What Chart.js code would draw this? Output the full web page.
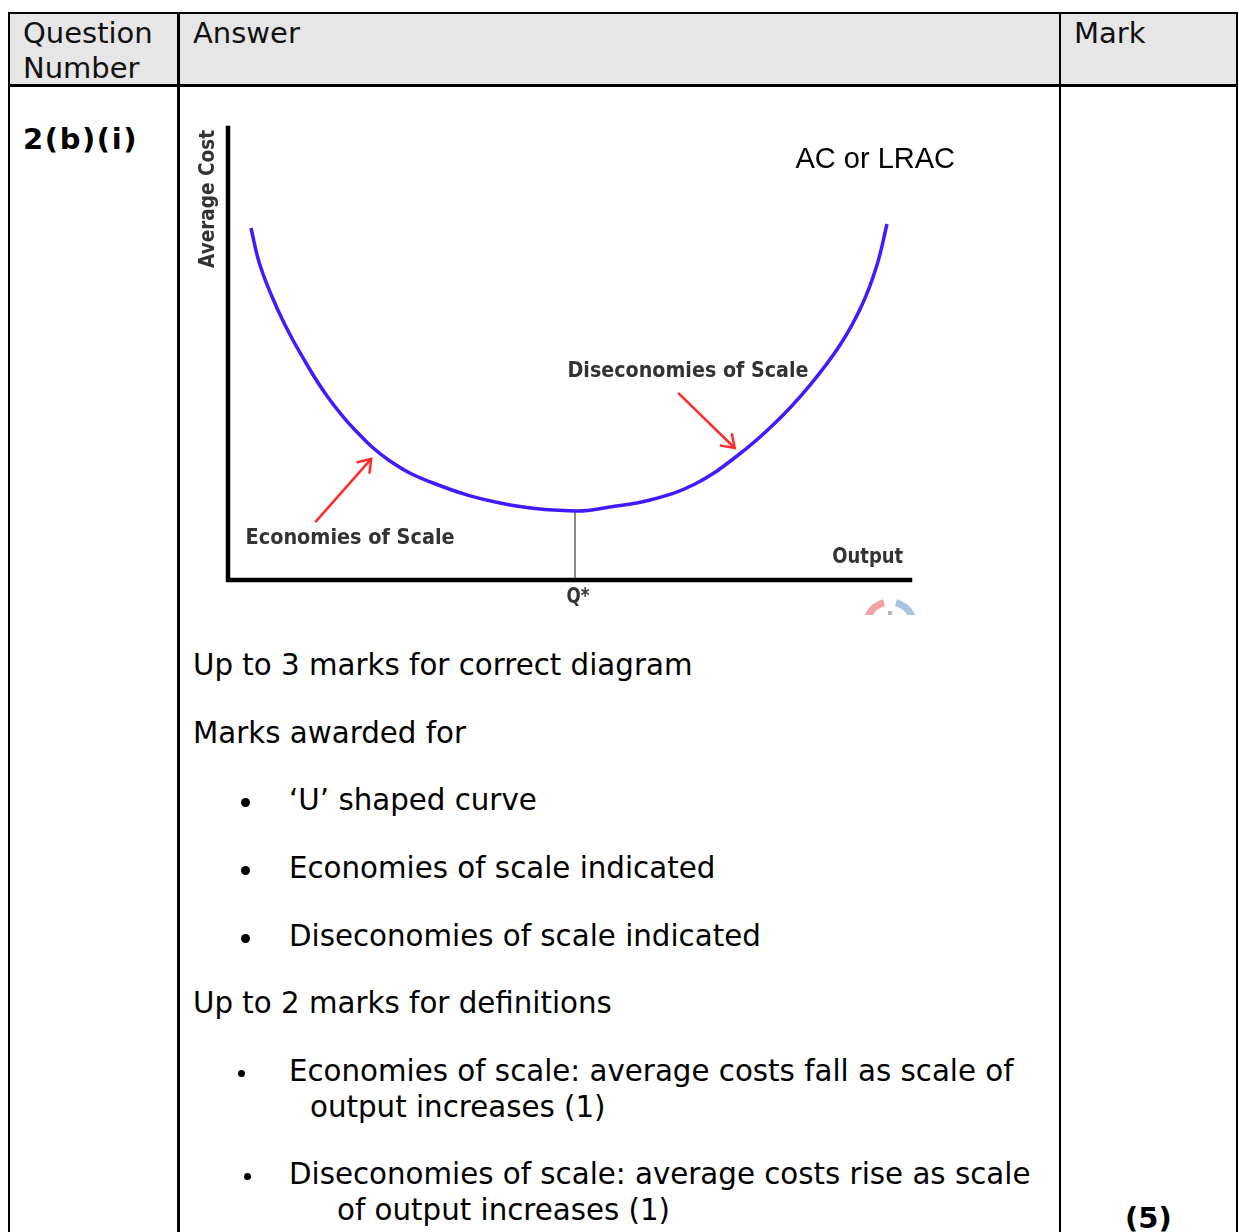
<!DOCTYPE html>
<html>
<head>
<meta charset="utf-8">
<script src="https://cdn.jsdelivr.net/npm/chart.js@4.4.1/dist/chart.umd.min.js"></script>
<style>
  body { margin: 0; width: 1239px; height: 1232px; overflow: hidden; background: #fff; position: relative; }
  .ln { position: absolute; background: #000; }
  .hdr { position: absolute; left: 9px; top: 13px; width: 1227px; height: 72px; background: #e6e6e6; }
  .t { position: absolute; white-space: nowrap; font-family: "DejaVu Sans", Verdana, sans-serif; font-size: 29.3px; line-height: 36px; color: #000; }
  .h { font-size: 29px; color: #111; }
  .b { font-weight: bold; }
  .dot { position: absolute; background: #000; border-radius: 50%; }
  #wrap { position: absolute; left: 190px; top: 120px; width: 790px; height: 495px; }
</style>
</head>
<body>
<div class="hdr"></div>
<div class="ln" style="left:7.5px;top:11.5px;width:2.5px;height:1300px"></div>
<div class="ln" style="left:177px;top:11.5px;width:2.5px;height:1300px"></div>
<div class="ln" style="left:1058.5px;top:11.5px;width:2.5px;height:1300px"></div>
<div class="ln" style="left:1235.5px;top:11.5px;width:2.5px;height:1300px"></div>
<div class="ln" style="left:7.5px;top:11.5px;width:1230.5px;height:2.5px"></div>
<div class="ln" style="left:7.5px;top:84px;width:1230.5px;height:2.5px"></div>

<div class="t h" style="left:23px;top:15px">Question</div>
<div class="t h" style="left:23px;top:50px">Number</div>
<div class="t h" style="left:193px;top:15px">Answer</div>
<div class="t h" style="left:1074px;top:15px">Mark</div>

<div class="t b" style="left:23px;top:121px;font-size:29px;letter-spacing:1.6px">2(b)(i)</div>

<div id="wrap"><canvas id="acChart"></canvas></div>

<div class="t" style="left:193px;top:647px">Up to 3 marks for correct diagram</div>
<div class="t" style="left:193px;top:715px">Marks awarded for</div>
<div class="dot" style="left:240.5px;top:798px;width:9px;height:9px"></div>
<div class="t" style="left:289px;top:782px">‘U’ shaped curve</div>
<div class="dot" style="left:240.5px;top:866px;width:9px;height:9px"></div>
<div class="t" style="left:289px;top:850px">Economies of scale indicated</div>
<div class="dot" style="left:240.5px;top:934px;width:9px;height:9px"></div>
<div class="t" style="left:289px;top:918px">Diseconomies of scale indicated</div>
<div class="t" style="left:193px;top:985px">Up to 2 marks for definitions</div>
<div class="dot" style="left:237.5px;top:1069.5px;width:7px;height:7px"></div>
<div class="t" style="left:289px;top:1053px">Economies of scale: average costs fall as scale of</div>
<div class="t" style="left:310px;top:1089px">output increases (1)</div>
<div class="dot" style="left:243.5px;top:1172.5px;width:7px;height:7px"></div>
<div class="t" style="left:289px;top:1156px">Diseconomies of scale: average costs rise as scale</div>
<div class="t" style="left:337px;top:1192px">of output increases (1)</div>
<div class="t b" style="left:1125px;top:1200px;font-size:29px">(5)</div>

<script>
// U-shaped long run average cost curve (output 0-100, cost 0-100)
const output = [3.37, 4.55, 6.16, 8.36, 11.0, 14.52, 18.62, 23.75, 30.06, 39.88, 50.88, 56.01, 61.88, 68.48, 74.63, 80.21, 85.34, 89.74, 92.96, 95.16, 96.63];
const avgCost = [77.88, 70.35, 63.72, 56.42, 49.12, 40.71, 33.19, 26.33, 21.46, 17.04, 15.27, 16.15, 17.7, 21.24, 27.43, 34.73, 43.14, 51.99, 60.84, 69.69, 78.76];

// optimum output Q* and minimum average cost
const qStar = 50.88;
const minCost = 15.27;

// red arrows: [tail, head]
const econArrowX = [12.8, 21.0];
const econArrowY = [12.8, 26.8];
const diseconArrowX = [66.0, 74.3];
const diseconArrowY = [41.4, 29.2];

function pts(xs, ys) {
    return xs.map((x, i) => ({ x: x, y: ys[i] }));
}

// label text and where it sits, in chart units
const labels = [
    { text: 'AC or LRAC', x: 94.9, y: 92.9, font: '29px "Liberation Sans", Arial, sans-serif', color: '#000' },
    { text: 'Diseconomies of Scale', x: 67.45, y: 46.2, font: 'bold 21px "DejaVu Sans", sans-serif', color: '#333', width: 241 },
    { text: 'Economies of Scale', x: 17.9, y: 9.07, font: 'bold 21px "DejaVu Sans", sans-serif', color: '#333', width: 209 },
    { text: 'Output', x: 93.8, y: 4.87, font: 'bold 21px "DejaVu Sans", sans-serif', color: '#333', width: 71 },
    { text: 'Q*', x: qStar + 0.45, y: -3.98, font: 'bold 21px "DejaVu Sans", sans-serif', color: '#333', width: 23 },
    { text: 'Average Cost', x: -2.8, y: 84.3, font: 'bold 21px "DejaVu Sans", sans-serif', color: '#333', width: 138, rotate: true }
];

function drawText(ctx, l, px, py) {
    ctx.save();
    ctx.font = l.font;
    ctx.fillStyle = l.color;
    ctx.textAlign = 'center';
    ctx.textBaseline = 'middle';
    ctx.translate(px, py);
    if (l.rotate) ctx.rotate(-Math.PI / 2);
    if (l.width) {
        const m = ctx.measureText(l.text).width;
        ctx.scale(l.width / m, 1);
    }
    ctx.fillText(l.text, 0, 0);
    ctx.restore();
}

function arrowHead(ctx, x0, y0, x1, y1) {
    const a = Math.atan2(y1 - y0, x1 - x0);
    const len = 14;
    ctx.beginPath();
    ctx.moveTo(x1 - len * Math.cos(a - 0.6), y1 - len * Math.sin(a - 0.6));
    ctx.lineTo(x1, y1);
    ctx.lineTo(x1 - len * Math.cos(a + 0.6), y1 - len * Math.sin(a + 0.6));
    ctx.stroke();
}

const diagramPlugin = {
    id: 'diagram',
    afterDatasetsDraw(chart) {
        const ctx = chart.ctx;
        const xs = chart.scales.x;
        const ys = chart.scales.y;
        const area = chart.chartArea;

        // axes
        ctx.save();
        ctx.strokeStyle = '#000';
        ctx.lineWidth = 4.5;
        ctx.lineCap = 'square';
        ctx.beginPath();
        ctx.moveTo(area.left, area.top);
        ctx.lineTo(area.left, area.bottom);
        ctx.lineTo(area.right, area.bottom);
        ctx.stroke();

        // arrow heads
        ctx.strokeStyle = '#ff2b2b';
        ctx.lineWidth = 2.5;
        ctx.lineCap = 'round';
        [[econArrowX, econArrowY], [diseconArrowX, diseconArrowY]].forEach(([ax, ay]) => {
            arrowHead(ctx, xs.getPixelForValue(ax[0]), ys.getPixelForValue(ay[0]),
                xs.getPixelForValue(ax[1]), ys.getPixelForValue(ay[1]));
        });

        // faint logo remnant in the corner
        const cx = area.right - 20, cy = area.bottom + 46;
        ctx.lineWidth = 7;
        ctx.lineCap = 'butt';
        ctx.strokeStyle = '#f2a3a3';
        ctx.beginPath();
        ctx.arc(cx, cy, 24, Math.PI * 1.12, Math.PI * 1.42);
        ctx.stroke();
        ctx.strokeStyle = '#a9c3df';
        ctx.beginPath();
        ctx.arc(cx, cy, 24, Math.PI * 1.58, Math.PI * 1.88);
        ctx.stroke();
        ctx.fillStyle = '#b5b5b5';
        ctx.fillRect(cx - 2, cy - 15, 4, 6);
        ctx.restore();

        labels.forEach(l => drawText(ctx, l, xs.getPixelForValue(l.x), ys.getPixelForValue(l.y)));
    }
};

new Chart(document.getElementById('acChart'), {
    type: 'line',
    data: {
        datasets: [
            {
                label: 'AC or LRAC',
                data: pts(output, avgCost),
                borderColor: '#3d1cff',
                borderWidth: 3.5,
                tension: 0.4
            },
            {
                label: 'Q*',
                data: pts([qStar, qStar], [0, minCost]),
                borderColor: '#8a8a8a',
                borderWidth: 2
            },
            {
                label: 'Economies of Scale',
                data: pts(econArrowX, econArrowY),
                borderColor: '#ff2b2b',
                borderWidth: 2.5
            },
            {
                label: 'Diseconomies of Scale',
                data: pts(diseconArrowX, diseconArrowY),
                borderColor: '#ff2b2b',
                borderWidth: 2.5
            }
        ]
    },
    options: {
        responsive: true,
        maintainAspectRatio: false,
        animation: false,
        layout: { padding: { left: 38, top: 8, right: 70, bottom: 35 } },
        elements: { point: { radius: 0, hoverRadius: 0 } },
        scales: {
            x: { type: 'linear', min: 0, max: 100, display: false },
            y: { type: 'linear', min: 0, max: 100, display: false }
        },
        plugins: {
            legend: { display: false },
            tooltip: { enabled: false }
        }
    },
    plugins: [diagramPlugin]
});
</script>
</body>
</html>
